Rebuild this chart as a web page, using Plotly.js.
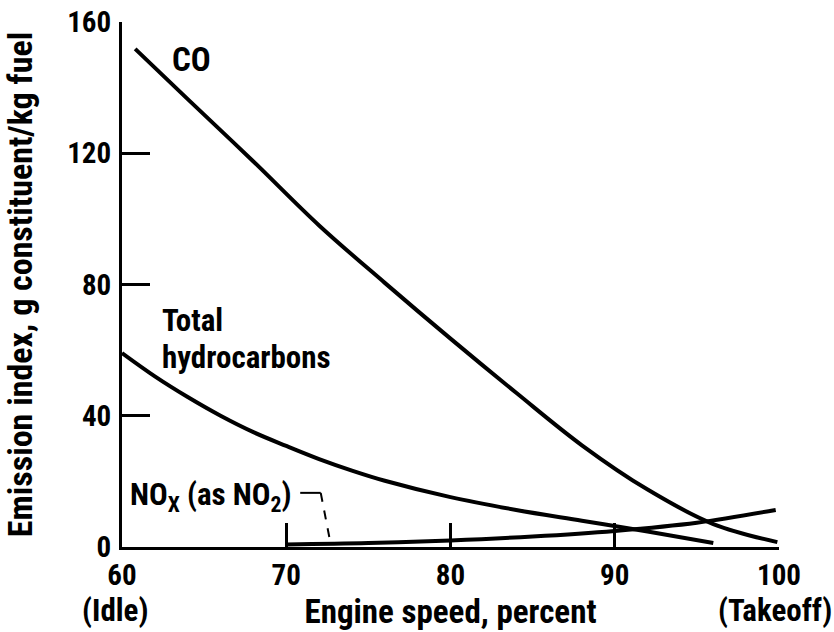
<!DOCTYPE html>
<html>
<head>
<meta charset="utf-8">
<script src="https://cdn.plot.ly/plotly-3.0.1.min.js"></script>
<style>
html,body{margin:0;padding:0;background:#fff;}
#chart{width:834px;height:632px;}
</style>
</head>
<body>
<div id="chart"></div>
<script>
// Engine speed (percent) and emission index (g constituent / kg fuel)
var speedCO  = [60.8, 64, 68, 72, 76, 80, 84, 88, 92, 96, 99.9];
var co       = [151.8, 136.5, 117.5, 98.0, 80.5, 63.5, 47.0, 31.0, 17.5, 7.0, 1.5];

var speedHC  = [60, 62, 64, 66, 68, 70, 72, 74, 76, 80, 84, 88, 92, 96];
var hc       = [59.1, 52.0, 45.7, 40.0, 35.0, 30.8, 26.8, 23.3, 20.2, 15.2, 11.3, 8.0, 4.7, 1.2];

var speedNOx = [70, 75, 80, 85, 90, 95, 99.8];
var nox      = [0.8, 1.2, 2.0, 3.2, 4.9, 7.4, 11.3];

var xTickVals = [60, 70, 80, 90, 100];
var xTickText = ["60", "70", "80", "90", "100"];
var yTickVals = [0, 40, 80, 120, 160];
var yTickText = ["0", "40", "80", "120", "160"];

var FONT = "'Roboto Condensed', 'Liberation Sans Narrow', Roboto, sans-serif";
var lineStyle = {color: "#000", width: 4, shape: "spline", smoothing: 1};

var traces = [
  {x: speedCO, y: co, mode: "lines", line: lineStyle, name: "CO", hoverinfo: "skip"},
  {x: speedHC, y: hc, mode: "lines", line: lineStyle, name: "Total hydrocarbons", hoverinfo: "skip"},
  {x: speedNOx, y: nox, mode: "lines", line: lineStyle, name: "NOx (as NO2)", hoverinfo: "skip"}
];

var txt = {family: FONT, size: 33, color: "#000", weight: "bold"};
var labTxt = {family: FONT, size: 31, color: "#000", weight: "bold"};
var yTitleTxt = {family: FONT, size: 34, color: "#000", weight: "bold"};
var tickTxt = {family: FONT, size: 29, color: "#000", weight: "bold"};

var layout = {
  width: 834, height: 632,
  margin: {l: 122, r: 55, t: 22, b: 85},
  paper_bgcolor: "#fff", plot_bgcolor: "#fff",
  showlegend: false,
  font: {family: FONT, color: "#000"},
  xaxis: {
    range: [60, 100], showgrid: false, zeroline: false,
    showline: true, linecolor: "#000", linewidth: 3,
    ticks: "inside", ticklen: 24, tickwidth: 3, tickcolor: "#000",
    tickvals: xTickVals, ticktext: xTickText,
    tickfont: tickTxt, ticklabelstandoff: 0,
    title: {text: "Engine speed, percent", font: txt, standoff: 0}
  },
  yaxis: {
    range: [0, 160], showgrid: false, zeroline: false,
    showline: true, linecolor: "#000", linewidth: 3,
    ticks: "inside", ticklen: 28, tickwidth: 3, tickcolor: "#000",
    tickvals: yTickVals, ticktext: yTickText,
    tickfont: tickTxt, ticklabelstandoff: 2,
    title: {text: "Emission index, g constituent/kg fuel", font: yTitleTxt, standoff: 30}
  },
  annotations: [
    {x: 62.95, y: 148.5, xref: "x", yref: "y", text: "CO", showarrow: false, xanchor: "left", yanchor: "middle", font: txt},
    {x: 62.3, y: 68.9, xref: "x", yref: "y", text: "Total", showarrow: false, xanchor: "left", yanchor: "middle", font: labTxt},
    {x: 62.3, y: 57.9, xref: "x", yref: "y", text: "hydrocarbons", showarrow: false, xanchor: "left", yanchor: "middle", font: labTxt},
    {x: 60.35, y: 15.5, xref: "x", yref: "y", text: "NO<sub>X</sub> (as NO<sub>2</sub>)", showarrow: false, xanchor: "left", yanchor: "middle", font: labTxt},
    {x: -0.0107, y: -0.12, xref: "paper", yref: "paper", text: "(Idle)", showarrow: false, xanchor: "center", yanchor: "middle", font: labTxt},
    {x: 1.0837, y: -0.12, xref: "paper", yref: "paper", text: "(Takeoff)", showarrow: false, xanchor: "right", yanchor: "middle", font: labTxt}
  ],
  shapes: [
    {type: "line", xref: "x", yref: "y", x0: 70.85, y0: 16.5, x1: 72.1, y1: 16.5, line: {color: "#000", width: 2}},
    {type: "line", xref: "x", yref: "y", x0: 72.1, y0: 16.5, x1: 72.7, y1: 1.0, line: {color: "#000", width: 2, dash: "dash"}}
  ]
};

Plotly.newPlot("chart", traces, layout, {staticPlot: true, displayModeBar: false});
</script>
</body>
</html>
